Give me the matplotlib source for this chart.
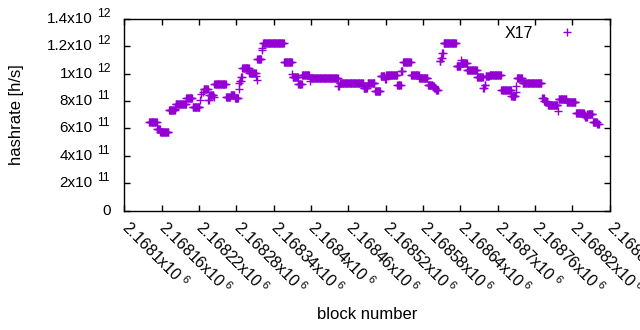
import matplotlib
matplotlib.use('Agg')
import matplotlib.pyplot as plt
import matplotlib.transforms as mtransforms
import numpy as np

plt.rcParams['font.family'] = ['Liberation Sans', 'DejaVu Sans']
plt.rcParams['mathtext.fontset'] = 'custom'
plt.rcParams['mathtext.rm'] = 'Liberation Sans'
plt.rcParams['mathtext.it'] = 'Liberation Sans:italic'
plt.rcParams['mathtext.bf'] = 'Liberation Sans:bold'

# block heights are 2168000 + offset; runs of equal hashrate (units of 1e11 h/s)
block_base = 2168000
run_start = [140, 153, 158, 172, 182, 183, 200, 210, 222, 224, 226, 228, 235, 237, 244,
             245, 264, 271, 278, 284, 285, 286, 288, 290, 301, 312, 313, 314, 321, 322,
             323, 357, 370, 371, 380, 386, 398, 399, 444, 446, 485, 491, 503, 512, 519,
             521, 539, 545, 548, 561, 574, 588, 596, 598, 601, 607, 609, 611, 613, 634,
             641, 642, 651, 667, 677, 679, 681, 687, 706, 722, 729, 730, 731, 740, 772,
             775, 778, 781, 797, 798, 811, 826, 839, 841, 844, 853, 860]
run_end = [152, 157, 171, 181, 182, 199, 209, 221, 222, 224, 226, 234, 236, 243, 244,
           263, 270, 277, 283, 284, 285, 287, 289, 300, 311, 312, 313, 320, 321, 322,
           356, 369, 370, 379, 385, 397, 398, 443, 445, 484, 490, 502, 511, 518, 520,
           538, 544, 547, 560, 573, 587, 595, 597, 600, 604, 608, 610, 612, 633, 640,
           641, 650, 666, 676, 678, 680, 686, 705, 721, 728, 729, 730, 739, 770, 774,
           777, 780, 796, 797, 810, 825, 838, 840, 843, 852, 859, 862]
run_value = [6.46, 5.95, 5.77, 7.34, 7.44, 7.78, 8.22, 7.56, 8.10, 8.51, 8.70, 8.90, 8.05, 8.44, 8.30,
             9.25, 8.29, 8.44, 8.22, 8.90, 9.32, 9.44, 9.73, 10.42, 10.02, 9.87, 9.55, 11.08, 11.75, 11.90,
             12.28, 10.86, 9.98, 9.78, 9.22, 9.93, 9.44, 9.68, 9.07, 9.29, 8.95, 9.29, 8.75, 9.83, 9.61,
             9.88, 9.19, 10.22, 10.86, 9.88, 9.68, 9.17, 9.10, 8.95, 8.83, 10.90, 11.15, 11.52, 12.25, 10.56,
             11.00, 10.76, 10.27, 9.73, 8.95, 9.19, 9.83, 9.88, 8.80, 8.34, 8.70, 9.07, 9.66, 9.32, 8.22,
             8.02, 7.93, 7.71, 7.29, 8.12, 7.90, 7.16, 7.00, 6.87, 7.05, 6.50, 6.31]

xtick_values = [2168100 + 60 * i for i in range(14)]
xtick_labels = ['2.1681', '2.16816', '2.16822', '2.16828', '2.16834', '2.1684', '2.16846',
                '2.16852', '2.16858', '2.16864', '2.1687', '2.16876', '2.16882', '2.16888']
ytick_values = [0, 2e11, 4e11, 6e11, 8e11, 1e12, 1.2e12, 1.4e12]
ytick_mant = ['0', '2x10', '4x10', '6x10', '8x10', '1x10', '1.2x10', '1.4x10']
ytick_exp = ['', '11', '11', '11', '11', '12', '12', '12']

blocks = np.concatenate([np.arange(s, e + 1) for s, e in zip(run_start, run_end)]) + block_base
hashrate = np.concatenate([np.full(e - s + 1, v) for s, e, v in zip(run_start, run_end, run_value)]) * 1e11

fig = plt.figure(figsize=(6.4, 3.3), dpi=100)
ax = fig.add_axes([0.194, 0.362, 0.7587, 0.5804])

ax.plot(blocks, hashrate, linestyle='none', marker='+', markersize=5.4, markeredgewidth=1.0,
        color='#9400d3', label='X17')

ax.set_xlim(2168100, 2168880)
ax.set_ylim(0, 1.4e12)
ax.set_xticks(xtick_values)
ax.set_xticklabels([t + r'x10$^{\ 6}$' for t in xtick_labels], rotation=-45, ha='left', va='top',
                   rotation_mode='anchor')
ax.set_yticks(ytick_values)

ax.tick_params(direction='in', length=4, width=1, top=True, right=True, labelsize=11.5)
ax.tick_params(axis='x', pad=5)
ax.tick_params(axis='y', labelleft=False)
for s in ax.spines.values():
    s.set_linewidth(1)

# nudge the slanted labels so they start right at their tick
shift = mtransforms.ScaledTranslation(5 / 72, 0, fig.dpi_scale_trans)
for lab in ax.get_xticklabels():
    lab.set_transform(lab.get_transform() + shift)

# y tick labels written gnuplot style: mantissa plus raised exponent
ytrans = ax.get_yaxis_transform()
mant_texts = []
exp_texts = []
for v, m, e in zip(ytick_values, ytick_mant, ytick_exp):
    if e:
        t = ax.text(0, v, m, fontsize=11.5, ha='right', va='center',
                    transform=ytrans + mtransforms.ScaledTranslation(-22.6 / 72, 0, fig.dpi_scale_trans))
        exp_texts.append(ax.text(0, v, e, fontsize=9.2, ha='left', va='center',
                                 transform=ytrans + mtransforms.ScaledTranslation(-19.8 / 72, 3.6 / 72,
                                                                                  fig.dpi_scale_trans)))
    else:
        t = ax.text(0, v, m, fontsize=11.5, ha='right', va='center',
                    transform=ytrans + mtransforms.ScaledTranslation(-9.5 / 72, 0, fig.dpi_scale_trans))
    mant_texts.append(t)

ax.set_xlabel('block number', fontsize=12)
ax.set_ylabel('hashrate [h/s]', fontsize=12)
ax.xaxis.set_label_coords(0.5, -0.505)
ax.yaxis.set_label_coords(-0.206, 0.5)

ax.legend(loc='upper right', bbox_to_anchor=(0.9666, 0.9966), borderaxespad=0, borderpad=0.4,
          frameon=False, markerfirst=False, handlelength=2.5, handletextpad=0.875,
          numpoints=1, fontsize=11.5)

# size the y tick text so "1.4x10" is as wide as in the original (~46 px)
fig.canvas.draw()
renderer = fig.canvas.get_renderer()
scale = 46 / mant_texts[-1].get_window_extent(renderer).width
for t in mant_texts + exp_texts:
    t.set_fontsize(t.get_fontsize() * scale)

plt.savefig('out.png', dpi=100)
